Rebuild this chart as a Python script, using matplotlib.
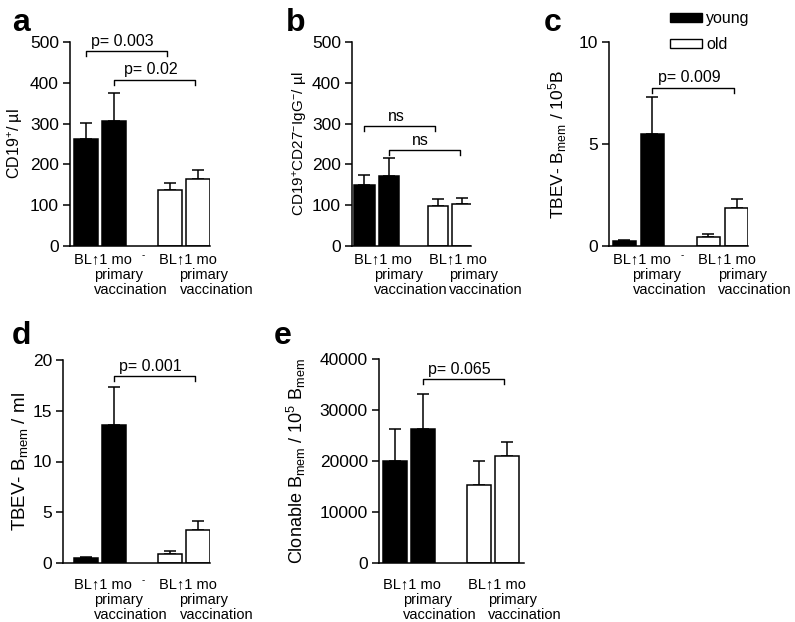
import matplotlib
matplotlib.use("Agg")
import matplotlib.pyplot as plt
from matplotlib.patches import Patch
import numpy as np

plt.rcParams['font.family'] = ['Liberation Sans', 'DejaVu Sans']
plt.rcParams['mathtext.fontset'] = 'custom'
plt.rcParams['mathtext.rm'] = 'Liberation Sans'
plt.rcParams['mathtext.it'] = 'Liberation Sans:italic'
plt.rcParams['mathtext.bf'] = 'Liberation Sans:bold'

# bars: young BL, young 1 mo, old BL, old 1 mo
xpos = [0, 1, 3, 4]
young_old = ['k', 'k', 'w', 'w']

a_mean = [262, 307, 137, 165]
a_err = [40, 68, 18, 22]
b_mean = [150, 172, 97, 103]
b_err = [25, 43, 18, 14]
c_mean = [0.25, 5.5, 0.45, 1.85]
c_err = [0.05, 1.8, 0.15, 0.45]
d_mean = [0.5, 13.6, 0.85, 3.3]
d_err = [0.08, 3.7, 0.3, 0.85]
e_mean = [20000, 26200, 15200, 21000]
e_err = [6300, 7000, 4800, 2700]

# brackets: (from bar index, to bar index, height, label)
a_brk = [(0, 2, 478, 'p= 0.003'), (1, 3, 407, 'p= 0.02')]
b_brk = [(0, 2, 294, 'ns'), (1, 3, 235, 'ns')]
c_brk = [(1, 3, 7.75, 'p= 0.009')]
d_brk = [(1, 3, 18.4, 'p= 0.001')]
e_brk = [(1, 3, 36000, 'p= 0.065')]

W, H = 795, 622
fig = plt.figure(figsize=(W / 100, H / 100), dpi=100)


def px_axes(l, t, r, b):
    return fig.add_axes([l / W, 1 - b / H, (r - l) / W, (b - t) / H])


def panel(box, xlim, mean, err, ymax, yticks, ylab, brk, letter, letter_xy,
          ylab_x, gap=6, dash=False, bw=0.85, ylab_fs=12):
    ax = px_axes(*box)
    for x, m, e, c in zip(xpos, mean, err, young_old):
        ax.bar(x, m, width=bw, color=c, edgecolor='k', linewidth=1.1, zorder=2)
        ax.errorbar(x, m, yerr=[[0], [e]], color='k', capsize=4.5,
                    elinewidth=1.1, capthick=1.1, zorder=1)
    ax.set_xlim(*xlim)
    ax.set_ylim(0, ymax)
    ax.set_yticks(yticks)
    ax.set_xticks([])
    for s in ['top', 'right']:
        ax.spines[s].set_visible(False)
    for s in ['left', 'bottom']:
        ax.spines[s].set_linewidth(1.1)
    ax.tick_params(axis='y', length=5, width=1.1, labelsize=12.5, pad=3)
    tk = ymax * 0.025
    for i, j, y, lab in brk:
        x1, x2 = xpos[i], xpos[j] - 0.1
        ax.plot([x1, x1, x2, x2], [y - tk, y, y, y - tk], color='k', lw=1.0,
                clip_on=False)
        ax.text((x1 + x2) / 2 - 0.15, y + ymax * 0.012, lab, ha='center',
                va='bottom', fontsize=11.5)
    tr = ax.get_xaxis_transform()
    for g in (0, 2):
        xl = xpos[g] - bw / 2 + (0 if g == 0 else 0.05)
        ax.annotate('BL\u21911 mo', (xl, 0), xycoords=tr,
                    xytext=(0, -gap), textcoords='offset pixels',
                    ha='left', va='top', fontsize=10.5)
        ax.annotate('primary\nvaccination', (xl, 0), xycoords=tr,
                    xytext=(20, -gap - 16), textcoords='offset pixels',
                    ha='left', va='top', fontsize=10.5, linespacing=1.1)
    if dash:
        ax.annotate('-', (2.05, 0), xycoords=tr, xytext=(0, -gap + 2),
                    textcoords='offset pixels', ha='center', va='top',
                    fontsize=7)
    fig.text(ylab_x / W, 1 - (box[1] + box[3]) / 2 / H, ylab, rotation=90,
             ha='center', va='center', fontsize=ylab_fs)
    fig.text(letter_xy[0] / W, 1 - letter_xy[1] / H, letter, fontsize=23,
             fontweight='bold', ha='left', va='baseline')
    return ax


panel((70, 42, 210, 246), (-0.571, 4.429), a_mean, a_err, 500,
      [0, 100, 200, 300, 400, 500], 'CD19$^{+}$/ \u00b5l', a_brk, 'a',
      (12, 31), 15, dash=True, ylab_fs=11.5)
panel((352, 42, 471, 246), (-0.51, 4.35), b_mean, b_err, 500,
      [0, 100, 200, 300, 400, 500],
      'CD19$^{+}$CD27$^{-}$IgG$^{-}$/ \u00b5l', b_brk, 'b', (286, 31), 300,
      ylab_fs=11)
ax_c = panel((609, 42, 748, 246), (-0.55, 4.41), c_mean, c_err, 10,
             [0, 5, 10], 'TBEV- B$_{\\mathrm{mem}}$ / 10$^{5}$B', c_brk, 'c',
             (544, 31), 558, dash=True, ylab_fs=12.5)
panel((63, 360, 210, 563), (-0.82, 4.43), d_mean, d_err, 20,
      [0, 5, 10, 15, 20], 'TBEV- B$_{\\mathrm{mem}}$ / ml', d_brk, 'd',
      (12, 344), 20, gap=14, dash=True, ylab_fs=13.5)
panel((379, 359, 524, 563), (-0.57, 4.61), e_mean, e_err, 40000,
      [0, 10000, 20000, 30000, 40000],
      'Clonable B$_{\\mathrm{mem}}$ / 10$^{5}$ B$_{\\mathrm{mem}}$', e_brk,
      'e', (274, 344), 296, gap=14, ylab_fs=13)

handles = [Patch(facecolor='k', edgecolor='k', label='young'),
           Patch(facecolor='w', edgecolor='k', label='old')]
fig.legend(handles=handles, loc='upper left', bbox_to_anchor=(670 / W, 1 - 11 / H),
           frameon=False, fontsize=11.5, handlelength=2.0, handleheight=0.45,
           handletextpad=0.25, labelspacing=0.7, borderaxespad=0,
           borderpad=0)

fig.savefig('out.png', dpi=100)
